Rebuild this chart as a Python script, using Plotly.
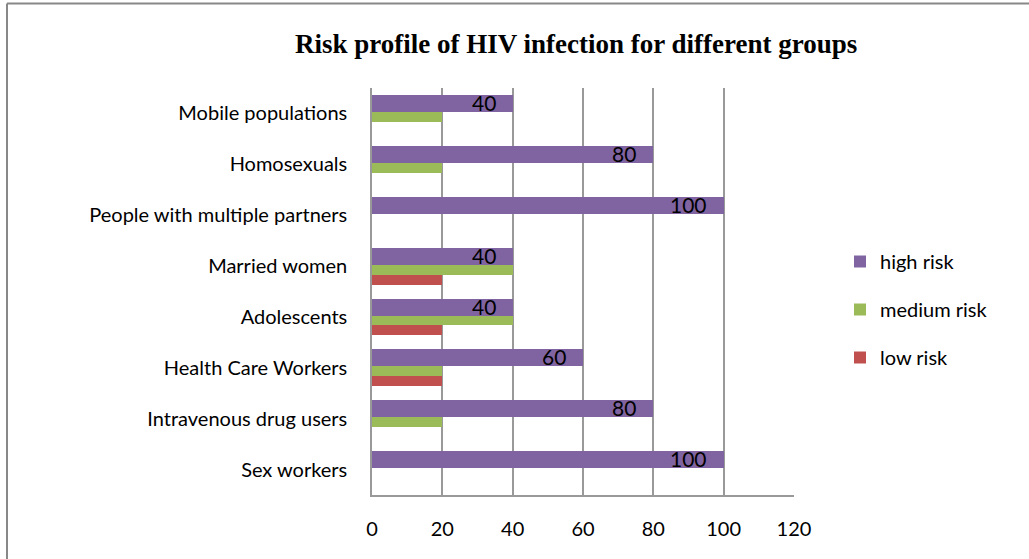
import plotly.graph_objects as go

categories = ["Sex workers", "Intravenous drug users", "Health Care Workers", "Adolescents",
              "Married women", "People with multiple partners", "Homosexuals", "Mobile populations"]
high_risk = [100, 80, 60, 40, 40, 100, 80, 40]
medium_risk = [0, 20, 20, 40, 40, 0, 20, 20]
low_risk = [0, 0, 20, 20, 20, 0, 0, 0]
x_ticks = [0, 20, 40, 60, 80, 100, 120]

W, H = 1029, 559
FONT = "Lato"
pos = list(range(len(categories)))

fig = go.Figure()
fig.add_trace(go.Bar(y=pos, x=high_risk, orientation="h", name="high risk",
                     marker=dict(color="#8064A2", line=dict(width=0)),
                     width=0.334, offset=0.028, legendgroup="h"))
fig.add_trace(go.Bar(y=pos, x=medium_risk, orientation="h", name="medium risk",
                     marker=dict(color="#9BBB59", line=dict(width=0)),
                     width=0.196, offset=-0.168, legendgroup="m"))
fig.add_trace(go.Bar(y=pos, x=low_risk, orientation="h", name="low risk",
                     marker=dict(color="#C0504D", line=dict(width=0)),
                     width=0.196, offset=-0.364, legendgroup="l"))

annotations = []
for p, v in zip(pos, high_risk):
    annotations.append(dict(x=v, y=p + 0.195, xref="x", yref="y", text=str(v),
                            showarrow=False, xanchor="right", yanchor="middle",
                            xshift=-15, yshift=1, font=dict(family=FONT, size=21, color="#000")))
annotations.append(dict(x=576 / W, y=1 - 44 / H, xref="paper", yref="paper",
                        text="<b>Risk profile of HIV infection for different groups</b>",
                        showarrow=False, xanchor="center", yanchor="middle",
                        font=dict(family="Liberation Serif", size=27, color="#000")))

shapes = [
    dict(type="line", xref="paper", yref="paper", x0=7 / W, x1=1.01, y0=1 - 3.5 / H, y1=1 - 3.5 / H,
         line=dict(color="#888", width=2)),
    dict(type="line", xref="paper", yref="paper", x0=7 / W, x1=7 / W, y0=-0.01, y1=1 - 3.5 / H,
         line=dict(color="#888", width=2)),
]

fig.update_layout(
    width=W, height=H, margin=dict(l=0, r=0, t=0, b=0, autoexpand=False),
    paper_bgcolor="white", plot_bgcolor="white",
    barmode="overlay", bargap=0,
    font=dict(family=FONT, size=20, color="#000"),
    xaxis=dict(domain=[372 / W, 794 / W], range=[0, 120], tickvals=x_ticks,
               showgrid=True, gridcolor="#999", gridwidth=1.5,
               showline=True, linecolor="#999", linewidth=1.5,
               ticks="", ticklabelstandoff=15, zeroline=False, fixedrange=True),
    yaxis=dict(domain=[1 - 495 / H, 1 - 88 / H], range=[-0.5, 7.5],
               tickvals=pos, ticktext=categories,
               showgrid=False, showline=True, linecolor="#999", linewidth=1.5,
               ticks="", ticklabelstandoff=19, zeroline=False, fixedrange=True),
    legend=dict(x=840 / W, y=1 - 242 / H, xanchor="left", yanchor="top",
                font=dict(family=FONT, size=20), tracegroupgap=19,
                bgcolor="rgba(0,0,0,0)", itemwidth=30),
    annotations=annotations, shapes=shapes, showlegend=True,
)

fig.write_html("out.html", post_script="document.body.style.margin='0px';",
               config={"displayModeBar": False})
